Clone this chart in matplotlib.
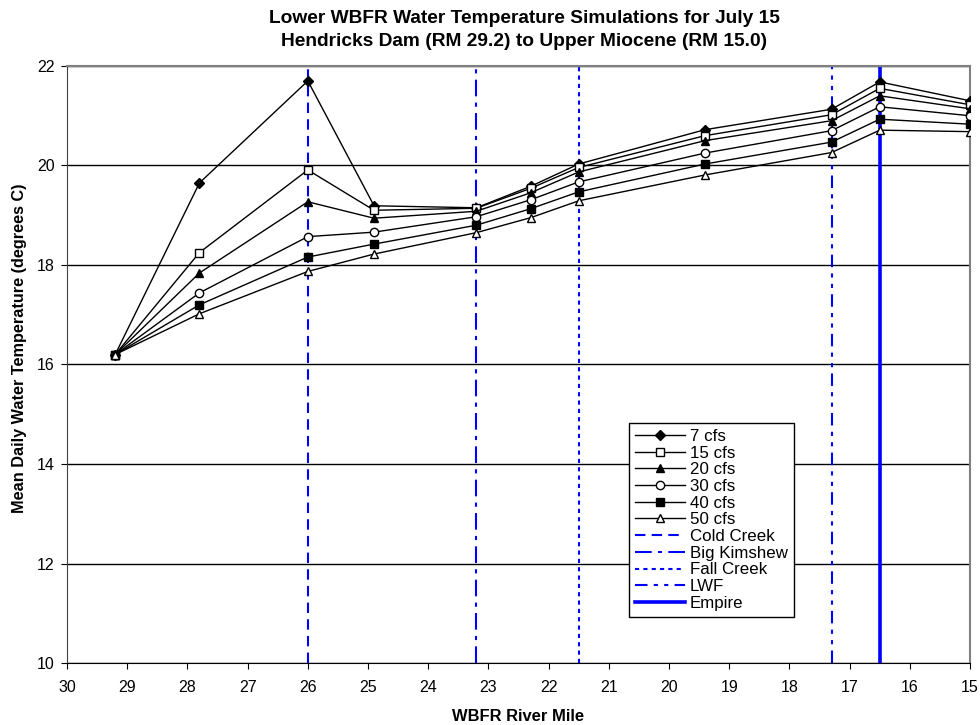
import matplotlib.pyplot as plt

plt.rcParams['font.family'] = ['Liberation Sans', 'DejaVu Sans']

# Data (river mile, mean daily water temp in deg C)
river_mile = [29.2, 27.8, 26.0, 24.9, 23.2, 22.3, 21.5, 19.4, 17.3, 16.5, 15.0]
t_7 = [16.2, 19.65, 21.70, 19.19, 19.15, 19.58, 20.03, 20.72, 21.13, 21.68, 21.30]
t_15 = [16.2, 18.25, 19.91, 19.10, 19.14, 19.54, 19.96, 20.60, 21.02, 21.55, 21.22]
t_20 = [16.2, 17.84, 19.27, 18.94, 19.08, 19.45, 19.87, 20.50, 20.90, 21.40, 21.14]
t_30 = [16.2, 17.44, 18.57, 18.66, 18.97, 19.31, 19.67, 20.25, 20.70, 21.18, 21.00]
t_40 = [16.2, 17.20, 18.16, 18.42, 18.80, 19.13, 19.47, 20.03, 20.47, 20.93, 20.83]
t_50 = [16.2, 17.02, 17.87, 18.22, 18.65, 18.95, 19.29, 19.81, 20.26, 20.71, 20.68]

series_labels = ['7 cfs', '15 cfs', '20 cfs', '30 cfs', '40 cfs', '50 cfs']
marker_styles = [('D', 'black'), ('s', 'white'), ('^', 'black'),
                 ('o', 'white'), ('s', 'black'), ('^', 'white')]

landmark_names = ['Cold Creek', 'Big Kimshew', 'Fall Creek', 'LWF', 'Empire']
landmark_miles = [26.0, 23.2, 21.5, 17.3, 16.5]
landmark_styles = [((0, (5, 3)), 1.5), ((0, (8, 3, 2, 3)), 1.5), ((0, (2, 2)), 1.5),
                   ((0, (6, 3, 2, 3, 2, 3)), 1.5), ('-', 2.6)]

fig = plt.figure(figsize=(9.8, 7.25), dpi=100)
ax = fig.add_axes([0.0684, 0.0855, 0.9214, 0.8235])

for temps, lab, (mk, fc) in zip([t_7, t_15, t_20, t_30, t_40, t_50],
                                series_labels, marker_styles):
    ms = 5.0 if mk == 'D' else 6.0
    ax.plot(river_mile, temps, color='black', lw=1.0, marker=mk, ms=ms,
            markerfacecolor=fc, markeredgecolor='black', markeredgewidth=1.0,
            label=lab, zorder=3)

for name, mile, (ls, lw) in zip(landmark_names, landmark_miles, landmark_styles):
    ax.axvline(mile, color='blue', linestyle=ls, lw=lw, label=name, zorder=2)

ax.set_xlim(30, 15)
ax.set_ylim(10, 22)
ax.set_xticks(range(30, 14, -1))
ax.set_yticks(range(10, 23, 2))
ax.yaxis.grid(True, color='black', lw=1.0)
ax.set_axisbelow(True)
ax.tick_params(axis='both', labelsize=11.5, direction='out', length=4, color='black')
ax.tick_params(axis='x', pad=8.5)
ax.tick_params(axis='y', pad=5)

for side in ['top', 'right']:
    ax.spines[side].set_color('#808080')
    ax.spines[side].set_linewidth(1.5)
ax.spines['left'].set_color('#404040')
ax.spines['bottom'].set_color('black')

fig.text(0.529, 0.012, 'WBFR River Mile', ha='center', va='center',
         fontsize=11.9, fontweight='bold')
fig.text(0.020, 0.519, 'Mean Daily Water Temperature (degrees C)', ha='center',
         va='center', rotation=90, fontsize=11.7, fontweight='bold')
fig.text(0.535, 0.974, 'Lower WBFR Water Temperature Simulations for July 15',
         ha='center', va='center', fontsize=13.8, fontweight='bold')
fig.text(0.535, 0.943, 'Hendricks Dam (RM 29.2) to Upper Miocene (RM 15.0)',
         ha='center', va='center', fontsize=13.8, fontweight='bold')

leg = ax.legend(loc='upper left', bbox_to_anchor=(0.622, 0.402), fontsize=12.2,
                frameon=True, fancybox=False, edgecolor='black', framealpha=1,
                handlelength=3.0, handletextpad=0.25, labelspacing=0.1,
                borderpad=0.35, borderaxespad=0)
leg.get_frame().set_linewidth(1.0)

fig.savefig('out.png', dpi=100)
